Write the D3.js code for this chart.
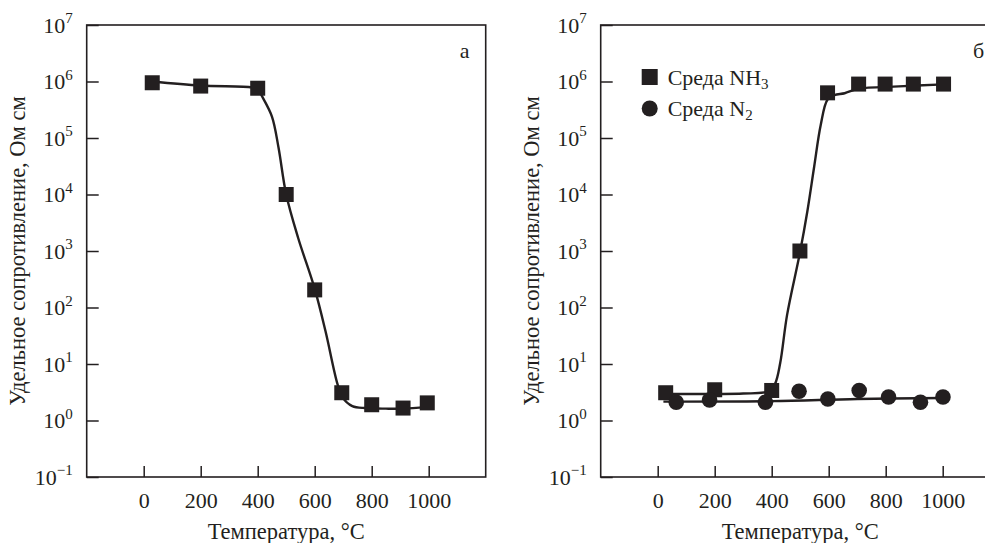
<!DOCTYPE html>
<html>
<head>
<meta charset="utf-8">
<script src="https://cdn.jsdelivr.net/npm/d3@7"></script>
<style>
  body { margin: 0; background: #fff; }
  svg { display: block; }
</style>
</head>
<body>
<svg id="chart" width="985" height="543"></svg>
<script>
// Panel а — resistivity vs. temperature, measured points and fitted curve
const tempA = [30, 200, 400, 500, 600, 695, 800, 910, 995];
const rhoA = [9.5e5, 8.3e5, 7.6e5, 1e4, 205, 3.1, 1.9, 1.66, 2.05];
const fitTempA = [30, 200, 380, 400, 415, 450, 473, 500, 542, 600, 638, 679, 697, 732, 779, 850, 910, 995];
const fitRhoA = [1e6, 8.5e5, 7.9e5, 7.4e5, 5.5e5, 2.4e5, 6.8e4, 1e4, 1.7e3, 214, 38, 4.6, 2.6, 1.8, 1.66, 1.62, 1.62, 1.74];

// Panel б — NH3 atmosphere (squares) and N2 atmosphere (circles)
const tempNH3 = [28, 200, 400, 499, 596, 705, 798, 897, 1003];
const rhoNH3 = [3.1, 3.5, 3.4, 1000, 6.3e5, 9e5, 9e5, 9e5, 9e5];
const fitTempNH3 = [28, 200, 300, 390, 412, 430, 454, 499, 525, 549, 572, 596, 620, 656, 703, 846, 1003];
const fitRhoNH3 = [2.95, 2.95, 3.0, 3.3, 4.5, 10.5, 74, 930, 5.0e3, 3.1e4, 1.7e5, 4.8e5, 5.75e5, 6.2e5, 7.4e5, 8.2e5, 8.9e5];

const tempN2 = [65, 182, 378, 496, 597, 707, 810, 922, 1001];
const rhoN2 = [2.1, 2.3, 2.1, 3.3, 2.4, 3.4, 2.6, 2.1, 2.6];
const fitTempN2 = [20, 400, 700, 1000];
const fitRhoN2 = [2.16, 2.2, 2.4, 2.5];

// Axis ticks
const xTicks = [0, 200, 400, 600, 800, 1000];
const yExponents = [7, 6, 5, 4, 3, 2, 1, 0, -1];

const ink = "#231f20";
const FONT = "'Liberation Serif', serif";
const FS = 22, TITLE = 22.5, SUP = 15;
const svg = d3.select("#chart");
const W = 399, H = 452;

function drawPanel(ox, oy, panelLetter, series, legend) {
  const g = svg.append("g").attr("transform", `translate(${ox},${oy})`)
    .style("font-family", FONT);
  const x = d3.scaleLinear().domain([-200, 1200]).range([0, W]);
  const y = d3.scaleLog().domain([0.1, 1e7]).range([H, 0]);

  // inward ticks on the bottom axis
  g.append("g")
    .attr("transform", `translate(0,${H})`)
    .call(d3.axisBottom(x).tickValues(xTicks).tickFormat(d3.format("d"))
      .tickSizeInner(-11).tickSizeOuter(0))
    .call(a => a.select(".domain").remove())
    .call(a => a.selectAll("line").attr("stroke", ink).attr("stroke-width", 1.5))
    .call(a => a.selectAll("text").attr("dy", null).attr("y", 31)
      .style("font-family", FONT).style("font-size", FS + "px").attr("fill", ink));

  // inward ticks on the left axis (labels drawn separately)
  g.append("g")
    .call(d3.axisLeft(y).tickValues(yExponents.map(e => Math.pow(10, e)))
      .tickSizeInner(-12).tickSizeOuter(0).tickFormat(""))
    .call(a => a.select(".domain").remove())
    .call(a => a.selectAll("line").attr("stroke", ink).attr("stroke-width", 1.5));

  // power-of-ten labels with superscripts
  const lab = g.append("g").attr("fill", ink);
  yExponents.forEach(e => {
    const t = lab.append("text")
      .attr("x", -14).attr("y", y(Math.pow(10, e)) + 7.5)
      .attr("text-anchor", "end").style("font-size", FS + "px");
    t.append("tspan").text("10");
    t.append("tspan").style("font-size", SUP + "px").attr("dy", -9.5)
      .text(e < 0 ? "\u2212" + Math.abs(e) : String(e));
  });

  // frame
  g.append("rect").attr("width", W).attr("height", H)
    .attr("fill", "none").attr("stroke", ink).attr("stroke-width", 1.6);

  // axis titles
  g.append("text").attr("x", x(500)).attr("y", H + 62).attr("fill", ink)
    .attr("text-anchor", "middle").style("font-size", TITLE + "px").text("Температура, °С");
  g.append("text").attr("fill", ink)
    .attr("transform", `translate(${-62},${H / 2}) rotate(-90)`)
    .attr("text-anchor", "middle").style("font-size", TITLE + "px")
    .text("Удельное сопротивление, Ом см");

  g.append("text").attr("x", W - 21).attr("y", 33).attr("text-anchor", "middle")
    .attr("fill", ink).style("font-size", FS + "px").text(panelLetter);

  const line = d3.line().x(d => x(d[0])).y(d => y(d[1]))
    .curve(d3.curveCatmullRom.alpha(0.5));

  series.forEach(s => {
    g.append("path").datum(d3.zip(s.fitT, s.fitV))
      .attr("d", line).attr("fill", "none").attr("stroke", ink).attr("stroke-width", 2.4);
  });
  series.forEach(s => {
    const pts = d3.zip(s.t, s.v);
    if (s.shape === "square") {
      g.selectAll(null).data(pts).enter().append("rect")
        .attr("x", d => x(d[0]) - 7.5).attr("y", d => y(d[1]) - 7.5)
        .attr("width", 15).attr("height", 15).attr("fill", ink);
    } else {
      g.selectAll(null).data(pts).enter().append("circle")
        .attr("cx", d => x(d[0])).attr("cy", d => y(d[1])).attr("r", 7.8).attr("fill", ink);
    }
  });

  if (legend) {
    legend.forEach((item, i) => {
      const ly = 52 + i * 31.5;
      const lg = g.append("g").attr("transform", `translate(49,${ly})`);
      if (item.shape === "square") {
        lg.append("rect").attr("x", -8).attr("y", -8).attr("width", 16).attr("height", 16).attr("fill", ink);
      } else {
        lg.append("circle").attr("r", 8).attr("fill", ink);
      }
      const t = lg.append("text").attr("x", 18).attr("y", 7.5).attr("fill", ink)
        .style("font-size", FS + "px");
      t.append("tspan").text(item.label);
      t.append("tspan").style("font-size", SUP + "px").attr("dy", 4).text(item.sub);
    });
  }
}

drawPanel(86.7, 25, "а", [
  { t: tempA, v: rhoA, fitT: fitTempA, fitV: fitRhoA, shape: "square" }
]);

drawPanel(600.7, 25, "б", [
  { t: tempNH3, v: rhoNH3, fitT: fitTempNH3, fitV: fitRhoNH3, shape: "square" },
  { t: tempN2, v: rhoN2, fitT: fitTempN2, fitV: fitRhoN2, shape: "circle" }
], [
  { shape: "square", label: "Среда NH", sub: "3" },
  { shape: "circle", label: "Среда N", sub: "2" }
]);
</script>
</body>
</html>
